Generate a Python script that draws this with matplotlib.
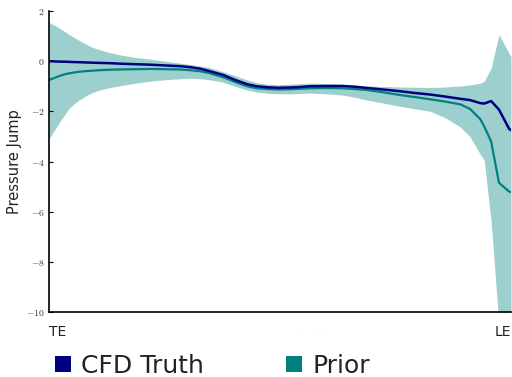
import matplotlib

matplotlib.use("Agg")
import matplotlib.pyplot as plt
from matplotlib.patches import Patch

# Chordwise stations, trailing edge (0) to leading edge (1)
chord = [0.0, 0.013, 0.024, 0.035, 0.045, 0.061, 0.078, 0.093, 0.110, 0.132,
         0.154, 0.186, 0.219, 0.251, 0.284, 0.305, 0.327, 0.348, 0.377, 0.403,
         0.429, 0.450, 0.472, 0.496, 0.522, 0.543, 0.565, 0.597, 0.636, 0.662,
         0.688, 0.723, 0.760, 0.792, 0.825, 0.857, 0.890, 0.911, 0.933, 0.942,
         0.957, 0.974, 0.996, 1.0]

cfd_truth = [0.0, -0.01, -0.02, -0.02, -0.03, -0.04, -0.05, -0.06, -0.07, -0.08,
             -0.10, -0.12, -0.14, -0.17, -0.20, -0.24, -0.30, -0.40, -0.55, -0.75,
             -0.92, -1.00, -1.04, -1.06, -1.05, -1.03, -1.00, -0.99, -0.99, -1.02,
             -1.07, -1.13, -1.20, -1.27, -1.33, -1.41, -1.50, -1.55, -1.67, -1.69,
             -1.59, -1.93, -2.70, -2.75]

prior_mean = [-0.75, -0.66, -0.58, -0.52, -0.48, -0.43, -0.40, -0.38, -0.36, -0.34,
              -0.33, -0.32, -0.31, -0.32, -0.33, -0.36, -0.40, -0.48, -0.64, -0.83,
              -1.00, -1.08, -1.11, -1.13, -1.12, -1.10, -1.08, -1.07, -1.08, -1.11,
              -1.15, -1.24, -1.35, -1.43, -1.52, -1.61, -1.72, -1.90, -2.30, -2.60,
              -3.20, -4.85, -5.20, -5.22]

prior_upper = [1.55, 1.42, 1.30, 1.17, 1.05, 0.87, 0.70, 0.56, 0.45, 0.34,
               0.25, 0.15, 0.08, 0.0, -0.08, -0.13, -0.19, -0.26, -0.42, -0.58,
               -0.75, -0.86, -0.92, -0.94, -0.92, -0.90, -0.88, -0.89, -0.92, -0.95,
               -0.98, -1.01, -1.03, -1.04, -1.05, -1.03, -0.99, -0.95, -0.88, -0.80,
               -0.28, 1.06, 0.30, 0.18]

prior_lower = [-3.10, -2.72, -2.40, -2.10, -1.85, -1.60, -1.40, -1.26, -1.15, -1.05,
               -0.98, -0.88, -0.80, -0.74, -0.70, -0.68, -0.70, -0.74, -0.84, -1.00,
               -1.15, -1.23, -1.28, -1.30, -1.30, -1.29, -1.27, -1.30, -1.35, -1.44,
               -1.55, -1.67, -1.80, -1.90, -2.00, -2.25, -2.62, -3.00, -3.70, -3.95,
               -6.40, -10.5, -12.0, -12.0]

yticks = [2, 0, -2, -4, -6, -8, -10]

NAVY = "#000080"
TEAL = "#008080"
BAND = "#9ccfcd"

plt.rcParams["mathtext.fontset"] = "cm"

fig = plt.figure(figsize=(5.12, 3.77), dpi=100)
ax = fig.add_axes([49 / 512, 65 / 377, 462 / 512, 301 / 377])

ax.fill_between(chord, prior_lower, prior_upper, color=BAND, linewidth=0)
ax.plot(chord, prior_mean, color=TEAL, linewidth=1.6)
ax.plot(chord, cfd_truth, color=NAVY, linewidth=1.8)

ax.set_xlim(0, 1)
ax.set_ylim(-10, 2)

for side in ["top", "right"]:
    ax.spines[side].set_visible(False)
for side in ["left", "bottom"]:
    ax.spines[side].set_linewidth(1.2)

ax.set_yticks(yticks)
ax.set_yticklabels([r"$%d$" % v if v >= 0 else r"$-%d$" % -v for v in yticks],
                   fontsize=7, color="#333333")
ax.tick_params(axis="y", direction="in", length=3, width=0.8, pad=3)

ax.set_xticks([0, 1])
ax.set_xticklabels(["TE", "LE"], fontsize=10, color="#222222")
ax.tick_params(axis="x", direction="in", length=0, pad=9)
xl = ax.get_xticklabels()
xl[0].set_horizontalalignment("left")
xl[1].set_horizontalalignment("right")

# faint placeholder marks between the end labels
for xp in [0.535, 0.582, 0.602]:
    ax.text(xp, -0.06, ".", transform=ax.transAxes, fontsize=3,
            color="#999999", ha="center", va="top")

ax.set_ylabel("Pressure Jump", fontsize=10.5, color="#222222", labelpad=3)

handles = [Patch(facecolor=NAVY, edgecolor="none"),
           Patch(facecolor=TEAL, edgecolor="none")]
fig.legend(handles, ["CFD Truth", "Prior"], loc="center left",
           bbox_to_anchor=(55 / 512, 1 - 366 / 377), ncol=2, frameon=False,
           fontsize=18, handlelength=0.64, handleheight=0.64,
           handletextpad=0.4, columnspacing=3.3, labelcolor="#222222",
           borderaxespad=0, borderpad=0)

fig.savefig("out.png", dpi=100)
